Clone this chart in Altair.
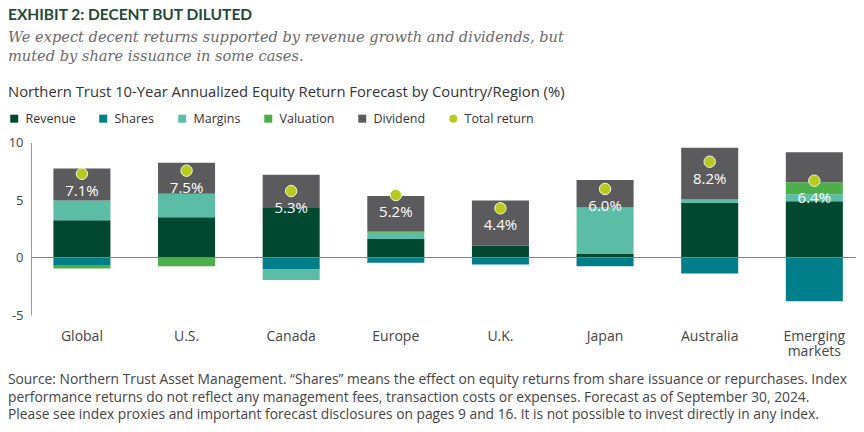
import altair as alt
import pandas as pd

regions = ["Global", "U.S.", "Canada", "Europe", "U.K.", "Japan", "Australia", "Emerging markets"]
components = ["Revenue", "Shares", "Margins", "Valuation", "Dividend"]
revenue   = [3.25, 3.5, 4.3, 1.6, 1.05, 0.3, 4.75, 4.9]
shares    = [-0.65, 0.0, -1.05, -0.45, -0.6, -0.75, -1.4, -3.8]
margins   = [1.7, 2.05, -0.9, 0.55, 0.0, 4.05, 0.3, 0.6]
valuation = [-0.3, -0.75, 0.0, 0.15, 0.0, 0.0, 0.0, 1.05]
dividend  = [2.8, 2.7, 2.9, 3.05, 3.9, 2.4, 4.5, 2.6]
total_return_marker = [7.28, 7.55, 5.78, 5.43, 4.28, 5.96, 8.33, 6.68]
total_return_label = ["7.1%", "7.5%", "5.3%", "5.2%", "4.4%", "6.0%", "8.2%", "6.4%"]

colors = ["#00482F", "#007E8A", "#5BBDA5", "#4CAF4A", "#5B5B5D", "#B6CB1E"]
legend_domain = components + ["Total return"]

title_text = "EXHIBIT 2: DECENT BUT DILUTED"
subtitle_lines = ["We expect decent returns supported by revenue growth and dividends, but",
                  "muted by share issuance in some cases."]
chart_title = "Northern Trust 10-Year Annualized Equity Return Forecast by Country/Region (%)"
footer_lines = [
    "Source: Northern Trust Asset Management. \u201cShares\u201d means the effect on equity returns from share issuance or repurchases. Index",
    "performance returns do not reflect any management fees, transaction costs or expenses. Forecast as of September 30, 2024.",
    "Please see index proxies and important  forecast disclosures on pages 9 and 16. It is not possible to invest directly in any index.",
]

series = {"Revenue": revenue, "Shares": shares, "Margins": margins,
          "Valuation": valuation, "Dividend": dividend}
rows = []
for ci, c in enumerate(components):
    for ri, r in enumerate(regions):
        rows.append({"region": r, "component": c, "value": series[c][ri], "order": ci})
bars_df = pd.DataFrame(rows)
tot_df = pd.DataFrame({"region": regions, "total": total_return_marker,
                       "label": total_return_label, "component": ["Total return"] * len(regions)})

x_enc = alt.X("region:N", sort=regions, title=None,
              scale=alt.Scale(paddingInner=0.455, paddingOuter=0.17, align=0.63),
              axis=alt.Axis(domain=False, ticks=False, labelAngle=0, labelFontSize=14,
                            labelColor="#444444", labelPadding=14, labelLineHeight=15,
                            labelExpr="split(datum.label, ' ')" ))
y_scale = alt.Scale(domain=[-5, 10], nice=False)
color_scale = alt.Scale(domain=legend_domain, range=colors)

legend = alt.Legend(
    orient="none", legendX=-23, legendY=-58, direction="horizontal",
    title=chart_title, titleFontSize=14.8, titleFontWeight="normal", titleColor="#333333",
    titlePadding=13, titleLimit=900, labelFontSize=12.5, labelColor="#333333",
    symbolSize=64, labelOffset=5, columnPadding=21, symbolStrokeWidth=0,
)

bars = alt.Chart(bars_df).mark_bar().encode(
    x=x_enc,
    y=alt.Y("value:Q", stack="zero", scale=y_scale, title=None,
            axis=alt.Axis(values=[-5, 0, 5, 10], grid=False, ticks=False, tickSize=0,
                          domain=True, domainColor="#9a9a9a", labelFontSize=13,
                          labelColor="#444444", labelPadding=8,
                          labelExpr="'' + datum.value")),
    color=alt.Color("component:N", scale=color_scale, legend=legend),
    order=alt.Order("order:Q"),
)

zero = alt.Chart(pd.DataFrame({"z": [0]})).mark_rule(color="#808080", strokeWidth=1).encode(
    y=alt.Y("z:Q", scale=y_scale)
)

points = alt.Chart(tot_df).mark_point(filled=True, size=130, opacity=1,
                                      stroke="#f4f7dc", strokeWidth=1).encode(
    x=alt.X("region:N", sort=regions),
    y=alt.Y("total:Q", scale=y_scale),
    color=alt.Color("component:N", scale=color_scale, legend=legend),
    shape=alt.Shape("component:N", scale=alt.Scale(domain=legend_domain,
                    range=["square"] * 5 + ["circle"]), legend=legend),
)

labels = alt.Chart(tot_df).mark_text(color="white", fontSize=15, dy=17, baseline="middle",
                                     font="Open Sans").encode(
    x=alt.X("region:N", sort=regions),
    y=alt.Y("total:Q", scale=y_scale),
    text="label:N",
)

one = pd.DataFrame({"a": [0]})
head = alt.Chart(one).mark_text(text=title_text, font="Lato", fontWeight="bold", fontSize=15.5,
                                color="#1F4B38", align="left", baseline="alphabetic").encode(
    x=alt.value(-23), y=alt.value(-123))
sub = alt.Chart(one).mark_text(text=subtitle_lines, font="DejaVu Serif", fontStyle="italic",
                               fontSize=14.6, lineHeight=19, color="#6a6a6a", align="left",
                               baseline="middle").encode(
    x=alt.value(-23), y=alt.value(-104.5))
foot = alt.Chart(one).mark_text(text=footer_lines, font="Open Sans", fontSize=13.8, lineHeight=17.5,
                                color="#444444", align="left", baseline="middle").encode(
    x=alt.value(-23), y=alt.value(237.5))

chart = alt.layer(bars, zero, points, labels, head, sub, foot).properties(
    width=825, height=172.5,
    autosize=alt.AutoSizeParams(type="none"),
    padding={"left": 23, "top": 134.5, "right": 0, "bottom": 109},
).configure(font="Open Sans").configure_view(stroke=None)

chart.save("out.html", embed_options={"renderer": "svg", "actions": False})
